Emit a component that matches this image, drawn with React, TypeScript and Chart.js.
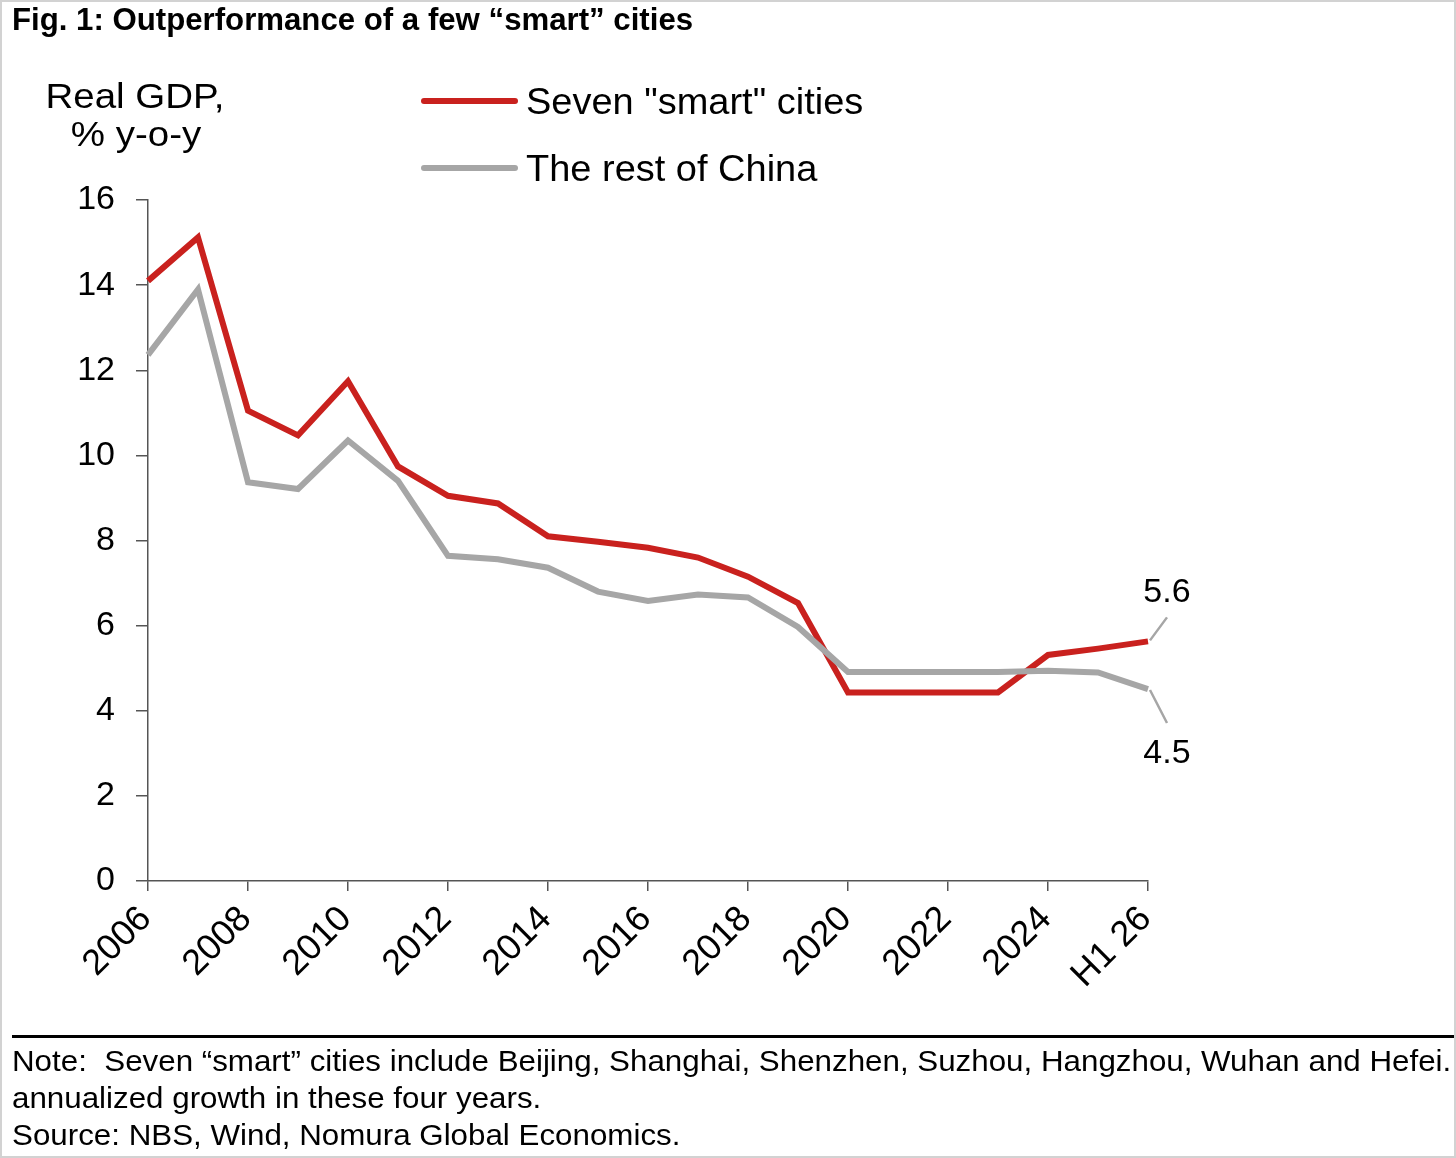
import React, { useEffect, useRef } from "react";
import { Chart, registerables } from "chart.js";

Chart.register(...registerables);

// ---- Data ----
const categories = [
  "2006", "2007", "2008", "2009", "2010", "2011", "2012", "2013", "2014", "2015",
  "2016", "2017", "2018", "2019", "2020", "2021", "2022", "2023", "2024", "2025", "H1 26",
];
const smartCities = [
  14.1, 15.12, 11.05, 10.47, 11.74, 9.74, 9.05, 8.87, 8.1, 7.97,
  7.83, 7.6, 7.15, 6.53, 4.43, 4.43, 4.43, 4.43, 5.31, 5.46, 5.63,
];
const restOfChina = [
  12.36, 13.9, 9.37, 9.21, 10.35, 9.4, 7.64, 7.56, 7.36, 6.8,
  6.58, 6.73, 6.66, 5.97, 4.91, 4.91, 4.91, 4.91, 4.94, 4.9, 4.51,
];
const yMin = 0;
const yMax = 16;
const yStep = 2;
const seriesNames = ['Seven "smart" cities', "The rest of China"];
const yTitleLines = ["Real GDP,", "% y-o-y"];
const titleText = "Fig. 1: Outperformance of a few \u201csmart\u201d cities";
const noteLines = [
  "Note:  Seven \u201csmart\u201d cities include Beijing, Shanghai, Shenzhen, Suzhou, Hangzhou, Wuhan and Hefei.",
  "annualized growth in these four years.",
  "Source: NBS, Wind, Nomura Global Economics.",
];

const RED = "#c9211e";
const GRAY = "#a6a6a6";
const AXIS = "#555555";
const FONT = '"Liberation Sans", Arial, Helvetica, sans-serif';

function stretchedText(
  ctx: CanvasRenderingContext2D,
  text: string,
  x: number,
  y: number,
  sx: number
) {
  ctx.save();
  ctx.translate(x, y);
  ctx.scale(sx, 1);
  ctx.fillText(text, 0, 0);
  ctx.restore();
}

const overlayPlugin = {
  id: "overlay",
  afterDraw(chart: any) {
    const ctx: CanvasRenderingContext2D = chart.ctx;
    const xs = chart.scales.x;
    const ys = chart.scales.y;
    ctx.save();
    ctx.fillStyle = "#000";
    // y-axis title
    ctx.font = `35px ${FONT}`;
    ctx.textAlign = "center";
    ctx.textBaseline = "alphabetic";
    stretchedText(ctx, yTitleLines[0], 135, 108, 1.1);
    stretchedText(ctx, yTitleLines[1], 136, 146, 1.1);

    // legend
    const items = [
      { name: seriesNames[0], color: RED, y: 101 },
      { name: seriesNames[1], color: GRAY, y: 168 },
    ];
    ctx.lineCap = "round";
    ctx.lineWidth = 6;
    ctx.textAlign = "left";
    ctx.font = `36px ${FONT}`;
    for (const it of items) {
      ctx.strokeStyle = it.color;
      ctx.beginPath();
      ctx.moveTo(424, it.y);
      ctx.lineTo(515, it.y);
      ctx.stroke();
      ctx.fillStyle = "#000";
      stretchedText(ctx, it.name, 526, it.y + 13, 1.055);
    }

    // end annotations
    const last = categories.length - 1;
    const px = xs.getPixelForValue(last);
    const pyR = ys.getPixelForValue(smartCities[last]);
    const pyG = ys.getPixelForValue(restOfChina[last]);
    ctx.lineCap = "butt";
    ctx.strokeStyle = GRAY;
    ctx.lineWidth = 2.5;
    ctx.beginPath();
    ctx.moveTo(px + 2, pyR - 1);
    ctx.lineTo(px + 19, pyR - 24);
    ctx.moveTo(px + 2, pyG + 1);
    ctx.lineTo(px + 19, pyG + 34);
    ctx.stroke();
    ctx.fillStyle = "#000";
    ctx.font = `34px ${FONT}`;
    ctx.textAlign = "center";
    ctx.fillText(smartCities[last].toFixed(1), px + 19, pyR - 39);
    ctx.fillText(restOfChina[last].toFixed(1), px + 19, pyG + 74);
    ctx.restore();
  },
};

export default function App() {
  const canvasRef = useRef<HTMLCanvasElement | null>(null);

  useEffect(() => {
    if (!canvasRef.current) return;
    const chart = new Chart(canvasRef.current, {
      type: "line",
      data: {
        labels: categories,
        datasets: [
          {
            label: seriesNames[0],
            data: smartCities,
            borderColor: RED,
            backgroundColor: RED,
            borderWidth: 6,
            pointRadius: 0,
            tension: 0,
            order: 1,
          },
          {
            label: seriesNames[1],
            data: restOfChina,
            borderColor: GRAY,
            backgroundColor: GRAY,
            borderWidth: 6,
            pointRadius: 0,
            tension: 0,
            order: 0,
          },
        ],
      },
      options: {
        responsive: false,
        animation: false,
        events: [],
        layout: { padding: { top: 200, right: 308, left: 0, bottom: 0 } },
        plugins: {
          legend: { display: false },
          tooltip: { enabled: false },
          title: { display: false },
        },
        scales: {
          x: {
            type: "category",
            offset: false,
            afterFit: (scale: any) => {
              scale.height = 277;
            },
            border: { display: true, color: AXIS, width: 1.5 },
            grid: {
              drawOnChartArea: false,
              drawTicks: true,
              tickLength: 10,
              lineWidth: 1.5,
              color: (c: any) => (c.index % 2 === 0 ? AXIS : "rgba(0,0,0,0)"),
            },
            ticks: {
              autoSkip: false,
              maxRotation: 45,
              minRotation: 45,
              padding: 7,
              labelOffset: -2,
              color: "#000",
              font: { family: FONT, size: 36 },
              callback: (_v: any, i: number) => (i % 2 === 0 ? categories[i] : ""),
            },
          },
          y: {
            min: yMin,
            max: yMax,
            afterFit: (scale: any) => {
              scale.width = 148;
            },
            border: { display: true, color: AXIS, width: 1.5 },
            grid: {
              drawOnChartArea: false,
              drawTicks: true,
              tickLength: 12,
              lineWidth: 1.5,
              color: AXIS,
            },
            ticks: {
              stepSize: yStep,
              padding: 21,
              color: "#000",
              font: { family: FONT, size: 34 },
            },
          },
        },
      },
      plugins: [overlayPlugin],
    });
    return () => chart.destroy();
  }, []);

  return (
    <div
      style={{
        position: "absolute",
        left: 0,
        top: 0,
        width: 1456,
        height: 1158,
        background: "#fff",
        overflow: "hidden",
      }}
    >
      <canvas
        ref={canvasRef}
        width={1456}
        height={1158}
        style={{ position: "absolute", left: 0, top: 0, width: 1456, height: 1158 }}
      />
      <div
        style={{
          position: "absolute",
          left: 12,
          top: 2,
          fontFamily: FONT,
          fontWeight: "bold",
          fontSize: 31.2,
          lineHeight: "36px",
          color: "#000",
          whiteSpace: "nowrap",
        }}
      >
        {titleText}
      </div>
      <div
        style={{
          position: "absolute",
          left: 12,
          right: 0,
          top: 1035,
          height: 2.5,
          background: "#000",
        }}
      />
      <div
        style={{
          position: "absolute",
          left: 12,
          top: 1043,
          fontFamily: FONT,
          fontSize: 29,
          lineHeight: "37px",
          color: "#000",
          whiteSpace: "pre",
          transform: "scaleX(1.08)",
          transformOrigin: "0 0",
        }}
      >
        {noteLines.map((l, i) => (
          <div key={i}>{l}</div>
        ))}
      </div>
      <div
        style={{
          position: "absolute",
          left: 0,
          top: 0,
          width: 1456,
          height: 1158,
          boxSizing: "border-box",
          border: "2px solid #d2d2d2",
          pointerEvents: "none",
        }}
      />
    </div>
  );
}
